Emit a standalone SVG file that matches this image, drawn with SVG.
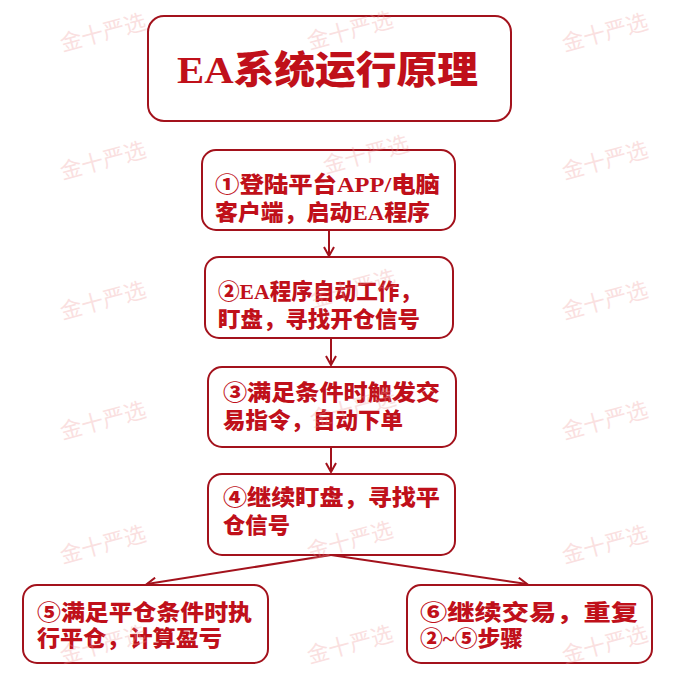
<svg xmlns="http://www.w3.org/2000/svg" width="694" height="676" viewBox="0 0 694 676">
<defs>
<style>
.box{fill:#ffffff;stroke:#a3121c;stroke-width:2}
.t{font-family:"Liberation Serif","Noto Sans CJK SC",serif;font-weight:900;font-size:22px;fill:#c0101a}
.title{font-family:"Liberation Serif","Noto Sans CJK SC",serif;font-weight:900;font-size:38px;fill:#c0101a}
.wm{font-family:"Noto Sans CJK SC",sans-serif;font-size:22px;fill:#f09a9a;opacity:0.3}
.c{stroke:#a3121c;stroke-width:2;fill:none}
</style>
<marker id="ah" markerWidth="12" markerHeight="12" refX="10" refY="6" orient="auto" markerUnits="userSpaceOnUse">
<path d="M1,1 L10,6 L1,11" fill="none" stroke="#a3121c" stroke-width="2"/>
</marker>
</defs>
<rect width="694" height="676" fill="#ffffff"/>
<g id="connectors">
<line class="c" x1="329" y1="230" x2="329" y2="256" marker-end="url(#ah)"/>
<line class="c" x1="331" y1="338" x2="331" y2="365" marker-end="url(#ah)"/>
<line class="c" x1="331" y1="447" x2="331" y2="472" marker-end="url(#ah)"/>
<line class="c" x1="331" y1="555" x2="147" y2="584" marker-end="url(#ah)"/>
<line class="c" x1="331" y1="555" x2="527" y2="584" marker-end="url(#ah)"/>
</g>
<g id="title">
<rect class="box" x="148" y="16" width="363" height="105" rx="16"/>
<text class="title" x="177" y="83" textLength="301" lengthAdjust="spacingAndGlyphs">EA系统运行原理</text>
</g>
<g id="step1">
<rect class="box" x="202" y="150" width="253" height="80" rx="14"/>
<text class="t" x="215" y="192" textLength="225" lengthAdjust="spacingAndGlyphs">①登陆平台APP/电脑</text>
<text class="t" x="215" y="220" textLength="215" lengthAdjust="spacingAndGlyphs">客户端，启动EA程序</text>
</g>
<g id="step2">
<rect class="box" x="205" y="257" width="248" height="81" rx="14"/>
<text class="t" x="218" y="299" textLength="203" lengthAdjust="spacingAndGlyphs">②EA程序自动工作，</text>
<text class="t" x="218" y="327" textLength="202" lengthAdjust="spacingAndGlyphs">盯盘，寻找开仓信号</text>
</g>
<g id="step3">
<rect class="box" x="208" y="367" width="248" height="80" rx="14"/>
<text class="t" x="223" y="400" textLength="217" lengthAdjust="spacingAndGlyphs">③满足条件时触发交</text>
<text class="t" x="223" y="428" textLength="180" lengthAdjust="spacingAndGlyphs">易指令，自动下单</text>
</g>
<g id="step4">
<rect class="box" x="208" y="474" width="247" height="81" rx="14"/>
<text class="t" x="223" y="505" textLength="217" lengthAdjust="spacingAndGlyphs">④继续盯盘，寻找平</text>
<text class="t" x="223" y="533" textLength="67" lengthAdjust="spacingAndGlyphs">仓信号</text>
</g>
<g id="step5">
<rect class="box" x="23" y="585" width="245" height="78" rx="14"/>
<text class="t" x="37" y="620" textLength="215" lengthAdjust="spacingAndGlyphs">⑤满足平仓条件时执</text>
<text class="t" x="37" y="646" textLength="185" lengthAdjust="spacingAndGlyphs">行平仓，计算盈亏</text>
</g>
<g id="step6">
<rect class="box" x="407" y="585" width="245" height="78" rx="14"/>
<text class="t" x="420" y="620" textLength="218" lengthAdjust="spacingAndGlyphs">⑥继续交易，重复</text>
<text class="t" x="420" y="646" textLength="103" lengthAdjust="spacingAndGlyphs">②~⑤步骤</text>
</g>
<g id="watermarks">
<text class="wm" transform="translate(105,40) rotate(-15)" text-anchor="middle">金十严选</text>
<text class="wm" transform="translate(352,38) rotate(-15)" text-anchor="middle">金十严选</text>
<text class="wm" transform="translate(607,40) rotate(-15)" text-anchor="middle">金十严选</text>
<text class="wm" transform="translate(105,168) rotate(-15)" text-anchor="middle">金十严选</text>
<text class="wm" transform="translate(368,162) rotate(-15)" text-anchor="middle">金十严选</text>
<text class="wm" transform="translate(607,168) rotate(-15)" text-anchor="middle">金十严选</text>
<text class="wm" transform="translate(105,308) rotate(-15)" text-anchor="middle">金十严选</text>
<text class="wm" transform="translate(355,296) rotate(-15)" text-anchor="middle">金十严选</text>
<text class="wm" transform="translate(607,308) rotate(-15)" text-anchor="middle">金十严选</text>
<text class="wm" transform="translate(105,428) rotate(-15)" text-anchor="middle">金十严选</text>
<text class="wm" transform="translate(355,416) rotate(-15)" text-anchor="middle">金十严选</text>
<text class="wm" transform="translate(607,428) rotate(-15)" text-anchor="middle">金十严选</text>
<text class="wm" transform="translate(105,552) rotate(-15)" text-anchor="middle">金十严选</text>
<text class="wm" transform="translate(352,548) rotate(-15)" text-anchor="middle">金十严选</text>
<text class="wm" transform="translate(607,552) rotate(-15)" text-anchor="middle">金十严选</text>
<text class="wm" transform="translate(105,652) rotate(-15)" text-anchor="middle">金十严选</text>
<text class="wm" transform="translate(352,652) rotate(-15)" text-anchor="middle">金十严选</text>
<text class="wm" transform="translate(607,652) rotate(-15)" text-anchor="middle">金十严选</text>
</g>
</svg>
